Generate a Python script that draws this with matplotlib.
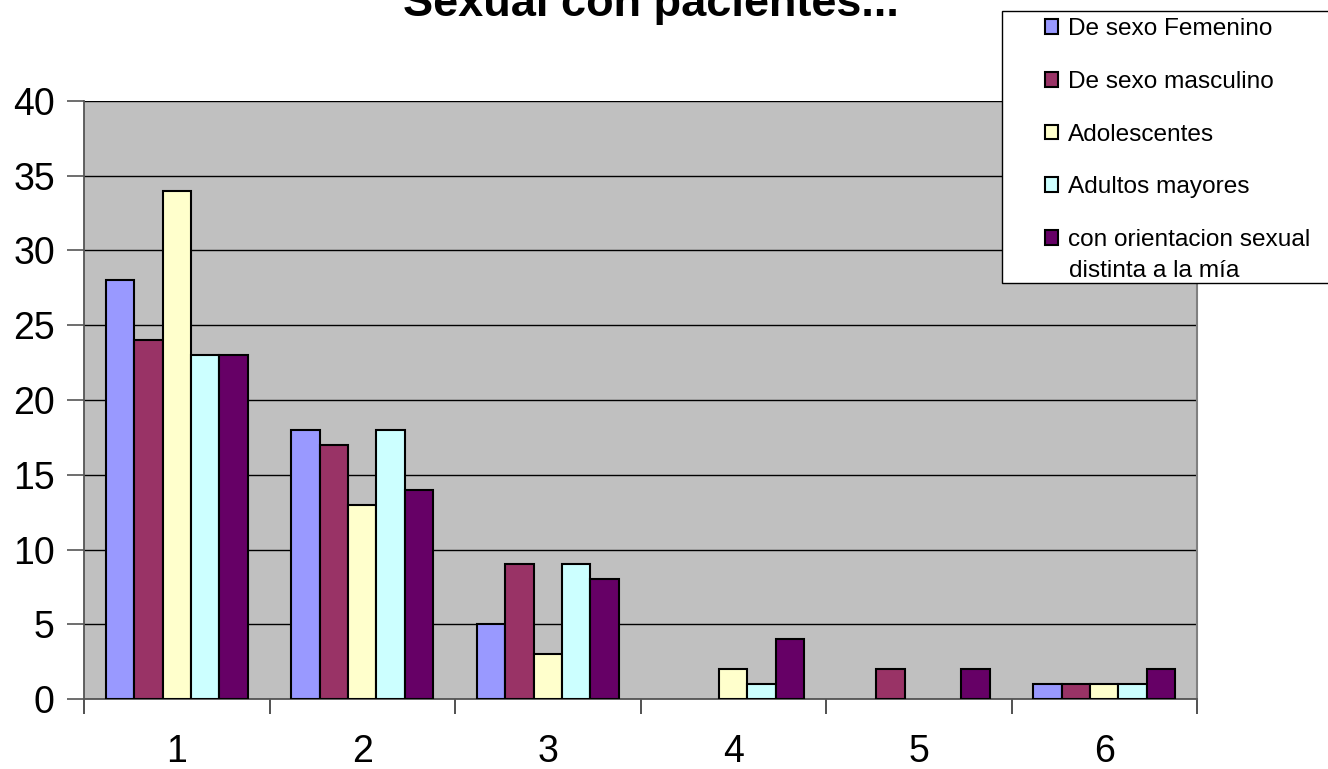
import numpy as np
import matplotlib
matplotlib.use("Agg")
import matplotlib.pyplot as plt
from matplotlib.patches import Rectangle

plt.rcParams["font.family"] = ["Liberation Sans", "DejaVu Sans"]

groups = ["1", "2", "3", "4", "5", "6"]
series_names = ["De sexo Femenino", "De sexo masculino", "Adolescentes",
                "Adultos mayores", "con orientacion sexual"]
last_label_line2 = "distinta a la mía"
femenino = [28, 18, 5, 0, 0, 1]
masculino = [24, 17, 9, 0, 2, 1]
adolescentes = [34, 13, 3, 2, 0, 1]
adultos = [23, 18, 9, 1, 0, 1]
orientacion = [23, 14, 8, 4, 2, 2]
colors = ["#9999FF", "#993366", "#FFFFCC", "#CCFFFF", "#660066"]
title = "Sexual con pacientes..."

W, H = 1328, 769
fig = plt.figure(figsize=(W / 100, H / 100), dpi=100)
ax = fig.add_axes([84 / W, 1 - 699 / H, (1197 - 84) / W, (699 - 101) / H])
ax.set_facecolor("#C0C0C0")

x = np.arange(1, len(groups) + 1)
bw = 0.153
all_series = [femenino, masculino, adolescentes, adultos, orientacion]
handles = []
for i, (vals, col, name) in enumerate(zip(all_series, colors, series_names)):
    bars = ax.bar(x + (i - 2) * bw, vals, bw, color=col, edgecolor="black",
                  linewidth=1.5, label=name, zorder=3)
    # Excel leaves zero values undrawn
    for b, v in zip(bars, vals):
        if v == 0:
            b.set_visible(False)
    handles.append(bars)

ax.set_xlim(0.5, 6.5)
ax.set_ylim(0, 40)
ax.set_yticks(range(0, 41, 5))
ax.yaxis.grid(True, color="black", linewidth=1.0, zorder=1)
ax.set_axisbelow(True)
ax.tick_params(axis="y", labelsize=27, length=12, width=1.2, color="#555555", pad=9)
ax.set_xticks(x)
ax.set_xticklabels(groups)
ax.tick_params(axis="x", which="major", labelsize=27, length=0, pad=25)
ax.set_xticks(np.arange(0.5, 6.6, 1), minor=True)
ax.tick_params(axis="x", which="minor", length=11, width=1.2, color="#333333")
for s in ["left", "bottom"]:
    ax.spines[s].set_color("#555555")
    ax.spines[s].set_linewidth(1.3)
ax.spines["right"].set_color("#808080")
ax.spines["right"].set_linewidth(1.5)
ax.spines["top"].set_visible(False)

fig.text(651 / W, 1 - 16 / H, title, ha="center", va="baseline",
         fontsize=32.5, fontweight="bold")

# legend box
fig.patches.append(Rectangle((1002 / W, 1 - 283 / H), (1340 - 1002) / W, (283 - 11) / H,
                             transform=fig.transFigure, facecolor="white",
                             edgecolor="black", linewidth=1.0, zorder=5))
leg = fig.legend(handles=handles, labels=series_names, loc="upper left",
                 bbox_to_anchor=(1045 / W, 1 - 18 / H), frameon=False,
                 fontsize=17.6, handlelength=0.55, handleheight=0.55,
                 handletextpad=0.4, labelspacing=1.26, borderpad=0,
                 borderaxespad=0)
leg.set_zorder(6)
fig.text(1069 / W, 1 - 271 / H, last_label_line2, ha="left", va="center",
         fontsize=17.6, zorder=7)

fig.savefig("out.png", dpi=100)
